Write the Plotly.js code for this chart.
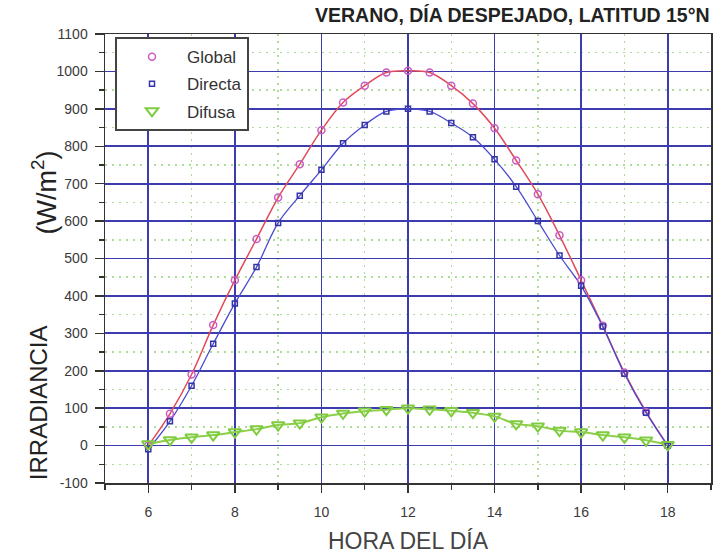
<!DOCTYPE html>
<html>
<head>
<meta charset="utf-8">
<script src="https://cdn.plot.ly/plotly-3.0.1.min.js"></script>
<style>
html,body{margin:0;padding:0;background:#fff;}
#chart{width:718px;height:554px;}
</style>
</head>
<body>
<div id="chart"></div>
<script>
const hours = [6, 6.5, 7, 7.5, 8, 8.5, 9, 9.5, 10, 10.5, 11, 11.5, 12, 12.5, 13, 13.5, 14, 14.5, 15, 15.5, 16, 16.5, 17, 17.5, 18];
const globalIrr = [0, 85, 190, 322, 442, 552, 663, 752, 843, 917, 962, 997, 1002, 997, 962, 914, 848, 762, 672, 562, 442, 320, 195, 90, 0];
const directaIrr = [-10, 65, 160, 272, 380, 477, 595, 668, 737, 808, 857, 893, 900, 893, 862, 824, 765, 692, 600, 508, 427, 318, 192, 88, 0];
const difusaIrr = [4, 15, 22, 28, 36, 44, 55, 60, 76, 86, 92, 96, 100, 97, 93, 88, 78, 58, 52, 40, 36, 28, 22, 14, 2];
const seriesNames = ['Global', 'Directa', 'Difusa'];
const yTickVals = [-100, 0, 100, 200, 300, 400, 500, 600, 700, 800, 900, 1000, 1100];
const yTickText = ['-100', '0', '100', '200', '300', '400', '500', '600', '700', '800', '900', '1000', '1100'];
const titleText = 'VERANO, DÍA DESPEJADO, LATITUD 15°N';
const xTitle = 'HORA DEL DÍA';
const yTitleMain = 'IRRADIANCIA';
const yTitleUnit = '(W/m<sup>2</sup>)';

const lineTrace = (y, color, width) => ({
  x: hours, y: y, mode: 'lines', type: 'scatter', showlegend: false,
  line: {color: color, width: width, shape: 'spline', smoothing: 1}, hoverinfo: 'skip'
});
const markerTrace = (y, name, symbol, color, size, lw) => ({
  x: hours, y: y, mode: 'markers', type: 'scatter', name: name, legendgroup: name,
  marker: {symbol: symbol, color: color, size: size, line: {color: color, width: lw}}
});

const data = [
  lineTrace(globalIrr, '#e04a5a', 1.5),
  lineTrace(directaIrr, '#4a4ad0', 1.3),
  lineTrace(difusaIrr, '#8ccf48', 2),
  markerTrace(globalIrr, seriesNames[0], 'circle-open', '#cc5cc4', 7, 1.5),
  markerTrace(directaIrr, seriesNames[1], 'square-open', '#3434a8', 5, 1.5),
  markerTrace(difusaIrr, seriesNames[2], 'triangle-down-open', '#80cc40', 11, 2)
];

const gridBlue = '#3c3cae';
const minorGreen = '#acdc98';
const tickFont = {family: 'Liberation Sans, Arial, sans-serif', size: 14, color: '#3a3a3a'};

const layout = {
  width: 718, height: 554,
  margin: {l: 105, r: 7, t: 34, b: 71, pad: 0},
  paper_bgcolor: '#fff', plot_bgcolor: '#fff',
  showlegend: true,
  legend: {
    x: 0.0165, y: 0.993, xanchor: 'left', yanchor: 'top',
    bgcolor: '#fff', bordercolor: '#444', borderwidth: 2,
    font: {family: 'Liberation Sans, Arial, sans-serif', size: 17, color: '#333'},
    itemwidth: 60, traceorder: 'grouped', tracegroupgap: 2
  },
  xaxis: {
    range: [5, 19], dtick: 2, tick0: 0,
    showgrid: true, gridcolor: gridBlue, gridwidth: 1.8,
    zeroline: false, showline: true, linecolor: '#333', linewidth: 1.5, mirror: true,
    ticks: 'outside', ticklen: 8, tickwidth: 1.5, tickcolor: '#333',
    ticklabelstandoff: 8,
    tickfont: tickFont,
    minor: {dtick: 1, showgrid: true, gridcolor: minorGreen, griddash: '2px,5px', gridwidth: 1.5,
            ticks: 'outside', ticklen: 5, tickwidth: 1.5, tickcolor: '#333'},
    title: {text: xTitle, font: {family: 'Liberation Sans, Arial, sans-serif', size: 23, color: '#444'}, standoff: 14}
  },
  yaxis: {
    range: [-100, 1100], tickmode: 'array', tickvals: yTickVals, ticktext: yTickText,
    showgrid: true, gridcolor: gridBlue, gridwidth: 1.8,
    zeroline: false, showline: true, linecolor: '#333', linewidth: 1.5, mirror: true,
    ticks: 'outside', ticklen: 9, tickwidth: 1.5, tickcolor: '#333',
    ticklabelstandoff: 4,
    tickfont: tickFont,
    minor: {dtick: 50, tick0: 0, showgrid: true, gridcolor: minorGreen, griddash: '2px,5px', gridwidth: 1.5,
            ticks: 'outside', ticklen: 5, tickwidth: 1.5, tickcolor: '#333'}
  },
  annotations: [
    {text: '<b>' + titleText + '</b>', xref: 'paper', yref: 'paper', x: 1.002, y: 1.042,
     xanchor: 'right', yanchor: 'middle', showarrow: false,
     font: {family: 'Liberation Sans, Arial, sans-serif', size: 19.5, color: '#222'}},
    {text: yTitleMain, xref: 'paper', yref: 'paper', x: -0.1106, y: 0.18,
     xanchor: 'center', yanchor: 'middle', textangle: -90, showarrow: false,
     font: {family: 'Liberation Sans, Arial, sans-serif', size: 24, color: '#222'}},
    {text: yTitleUnit, xref: 'paper', yref: 'paper', x: -0.1, y: 0.648,
     xanchor: 'center', yanchor: 'middle', textangle: -90, showarrow: false,
     font: {family: 'Liberation Sans, Arial, sans-serif', size: 27, color: '#222'}}
  ]
};

Plotly.newPlot('chart', data, layout, {displayModeBar: false, staticPlot: true});
</script>
</body>
</html>
